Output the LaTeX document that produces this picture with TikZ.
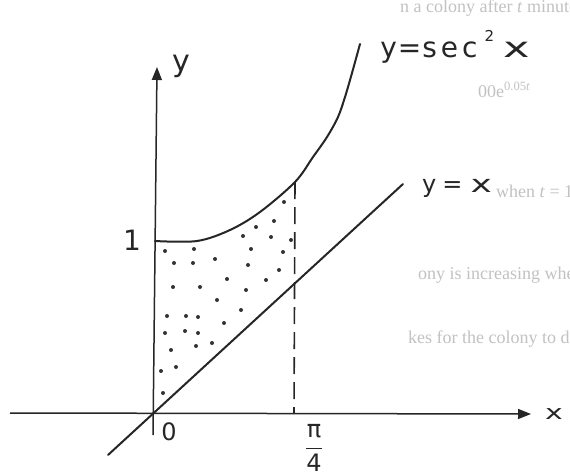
\documentclass[tikz,border=0pt]{standalone}
\usepackage{fontspec}
\usepackage{graphicx}
\setmainfont{Liberation Serif}
\newfontfamily\hand{DejaVu Sans}
\usetikzlibrary{arrows.meta}
\begin{document}
\begin{tikzpicture}[x=1pt,y=-1pt,
  pen/.style={draw=black!85,line width=2pt,line cap=round,line join=round},
  axisline/.style={draw=black!85,line width=1.5pt},
  dashline/.style={draw=black!85,line width=1.6pt,dash pattern=on 17pt off 8pt},
  ghost/.style={anchor=base west,inner sep=0pt,text=black!24,font=\fontsize{18}{18}\selectfont},
  handlabel/.style={inner sep=0pt,text=black!85},
  dotmark/.style={fill=black!80}]
\useasboundingbox (0,0) rectangle (570,474);
\fill[white] (0,0) rectangle (570,474);
% faint show-through text of the scanned page
\begin{scope}
\clip (0,0) rectangle (570,474);
\node[ghost] (g1) at (400,12) {n a colony after \textit{t} minutes is given by};
\node[ghost] (g2) at (478,97) {00e\textsuperscript{0.05\textit{t}}};
\node[ghost] (g3) at (496,197) {when \textit{t} = 10.};
\node[ghost] (g4) at (418,279) {ony is increasing when \textit{t} = 10.};
\node[ghost] (g5) at (408,343) {kes for the colony to double in size.};
\end{scope}
% key points
\coordinate (xstart) at (10,413);
\coordinate (xend) at (531,414);
\coordinate (ybot) at (153,435);
\coordinate (ytop) at (157,67);
\coordinate (lineA) at (108,455);
\coordinate (lineB) at (403,184);
\coordinate (dashT) at (295,182);
\coordinate (dashB) at (294,413);
\coordinate (curveA) at (155,241);
\coordinate (curveB) at (360,44);
% axes
\draw[axisline,-{Triangle[length=13pt,width=10pt]}] (xstart) -- (xend);
\draw[axisline,-{Triangle[length=13pt,width=10pt]}] (ybot) -- (ytop);
% dashed ordinate at pi/4
\draw[dashline] (dashT) -- (dashB);
% y = x
\draw[pen] (lineA) -- (lineB);
% y = sec^2 x
\draw[pen] plot[smooth,tension=0.55] coordinates {(155,241) (197,241) (230,230) (260,212) (295,182) (313,157) (327,137) (338,117) (345,97) (352,73) (360,44)};
% shading dots
\foreach \a/\b in {165/251,194/249,174/263,193/263,215/259,243/236,256/227,274/221,284/202,271/237,291/240,251/249,283/252,248/265,279/270,227/279,266/280,173/287,200/287,246/290,217/300,241/310,167/316,186/316,198/317,224/323,165/333,185/331,198/333,171/350,196/346,212/343,161/371,176/367,163/393}
  \fill[dotmark] (\a,\b) circle (2pt);
% labels
\node[handlabel,font=\hand\fontsize{30}{30}\selectfont] (ylab) at (181,66) {y};
\node[handlabel,font=\hand\fontsize{20}{20}\selectfont] (xlab) at (554,414) {\scalebox{1.5}[1]{x}};
\node[handlabel,font=\hand\fontsize{28}{28}\selectfont] (one) at (132,240) {1};
\node[handlabel,font=\hand\fontsize{24}{24}\selectfont] (zero) at (169,432) {0};
\node[handlabel,font=\hand\fontsize{24}{24}\selectfont] (pi4) at (314,448) {$\displaystyle\frac{\mbox{π}}{\mbox{4}}$};
\node[handlabel,font=\hand\fontsize{24}{24}\selectfont] (lablin) at (457,188) {y\hspace{6pt}=\hspace{8pt}\scalebox{1.5}[1]{x}};
\node[handlabel,font=\hand\fontsize{28}{28}\selectfont] (labsec) at (455,47) {y\hspace{1pt}=\hspace{1pt}s\hspace{4pt}e\hspace{4pt}c\hspace{7pt}\raisebox{16pt}{\fontsize{15}{15}\selectfont 2}\hspace{9pt}\scalebox{1.6}[1]{x}};
\end{tikzpicture}
\end{document}
